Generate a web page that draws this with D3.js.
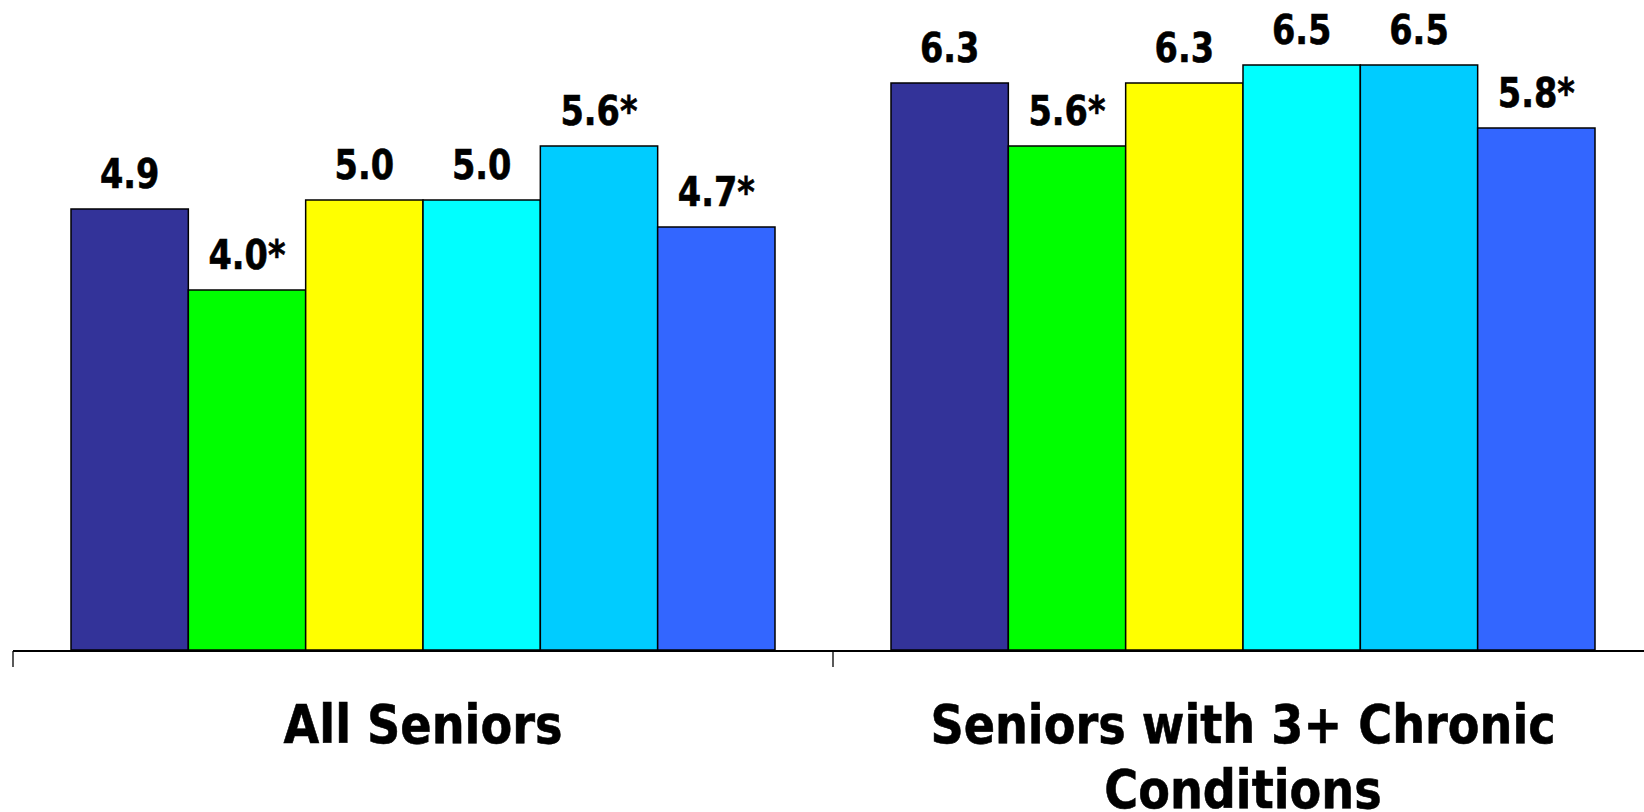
<!DOCTYPE html>
<html>
<head>
<meta charset="utf-8">
<script src="https://cdn.jsdelivr.net/npm/d3@7"></script>
<style>
  html, body { margin: 0; padding: 0; background: #fff; }
  svg { display: block; }
  text { font-family: "DejaVu Sans", Verdana, sans-serif; font-weight: bold; fill: #000; stroke: #000; stroke-width: 0.6px; }
</style>
</head>
<body>
<svg id="chart" width="1644" height="812"></svg>
<script>
// Grouped bar chart: two population groups, six series each
const categories = ["All Seniors", "Seniors with 3+ Chronic Conditions"];
const categoryLines = [["All Seniors"], ["Seniors with 3+ Chronic", "Conditions"]];
const series = ["s1", "s2", "s3", "s4", "s5", "s6"];
const seriesColors = ["#333399", "#00FF00", "#FFFF00", "#00FFFF", "#00CCFF", "#3366FF"];
const allSeniors = [4.9, 4.0, 5.0, 5.0, 5.6, 4.7];
const chronicSeniors = [6.3, 5.6, 6.3, 6.5, 6.5, 5.8];
const allSeniorsSig = [false, true, false, false, true, true];
const chronicSeniorsSig = [false, true, false, false, false, true];
const yMax = 7;

const values = [allSeniors, chronicSeniors];
const sig = [allSeniorsSig, chronicSeniorsSig];

const svg = d3.select("#chart");
const baseY = 650;

const x0 = d3.scaleBand().domain(categories).range([13, 1653]).padding(0);
const innerPad = 58;
const x1 = d3.scaleBand().domain(series).range([innerPad, x0.bandwidth() - innerPad]).padding(0);
const y = d3.scaleLinear().domain([0, yMax]).range([baseY, baseY - yMax * 90]);

const rows = [];
categories.forEach((c, ci) => {
  series.forEach((s, si) => {
    rows.push({ cat: c, ser: s, si, value: values[ci][si], star: sig[ci][si] });
  });
});

// bars
svg.append("g").selectAll("rect").data(rows).join("rect")
  .attr("x", d => x0(d.cat) + x1(d.ser))
  .attr("y", d => y(d.value))
  .attr("width", x1.bandwidth())
  .attr("height", d => y(0) - y(d.value))
  .attr("fill", d => seriesColors[d.si])
  .attr("stroke", "#000")
  .attr("stroke-width", 1.5);

// value labels
svg.append("g").selectAll("text").data(rows).join("text")
  .attr("transform", d => `translate(${x0(d.cat) + x1(d.ser) + x1.bandwidth() / 2},${y(d.value) - 21}) scale(0.84,1)`)
  .attr("text-anchor", "middle")
  .attr("font-size", 40)
  .text(d => d3.format(".1f")(d.value) + (d.star ? "*" : ""));

// category axis: baseline with ticks at band boundaries
const axis = svg.append("g");
axis.append("line")
  .attr("x1", x0.range()[0]).attr("x2", x0.range()[1])
  .attr("y1", baseY + 1).attr("y2", baseY + 1)
  .attr("stroke", "#000").attr("stroke-width", 2.2);
const tickXs = categories.map(c => x0(c)).concat([x0.range()[1]]);
axis.selectAll("line.tick").data(tickXs).join("line")
  .attr("class", "tick")
  .attr("x1", d => d).attr("x2", d => d)
  .attr("y1", baseY + 1).attr("y2", baseY + 17)
  .attr("stroke", "#000").attr("stroke-width", 1.3);

// category labels
categories.forEach((c, ci) => {
  const cx = x0(c) + x0.bandwidth() / 2;
  const t = axis.append("text")
    .attr("transform", `translate(${cx},743) scale(0.88,1)`)
    .attr("text-anchor", "middle")
    .attr("font-size", 52.5);
  categoryLines[ci].forEach((line, li) => {
    t.append("tspan").attr("x", 0).attr("dy", li === 0 ? 0 : 65).text(line);
  });
});
</script>
</body>
</html>
